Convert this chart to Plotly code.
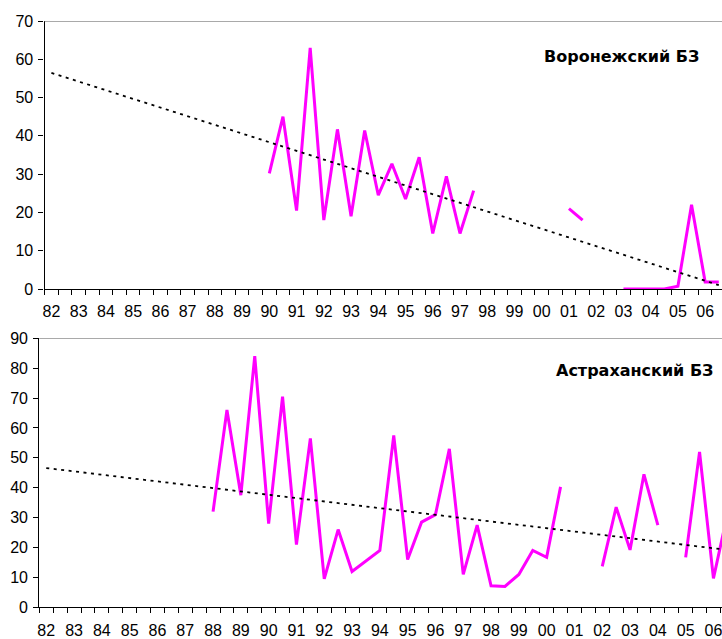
import numpy as np
import plotly.graph_objects as go

# Half-year periods 1982-2006: two counts per year
years = ["82", "83", "84", "85", "86", "87", "88", "89", "90", "91", "92", "93",
         "94", "95", "96", "97", "98", "99", "00", "01", "02", "03", "04", "05", "06"]
periods = list(range(2 * len(years)))

voronezh = [None] * 16 + [
    30.2, 45, 20.5, 63, 18, 41.7, 19, 41.4, 24.5, 32.7, 23.5, 34.4, 14.5, 29.4, 14.5, 25.7,
] + [None] * 6 + [21, 18] + [None] * 2 + [0, 0, 0, 0, 0.7, 22, 1.8, 1.8]

astrakhan = [None] * 12 + [
    32, 66, 37.5, 84, 28, 70.5, 21, 56.5, 9.5, 26, 12, 15.5, 19, 57.5, 16, 28.5,
    31, 53, 11, 27.5, 7.2, 7, 11, 19, 16.7, 40.3,
] + [None] * 2 + [13.7, 33.5, 19.2, 44.5, 27.5] + [None] + [16.7, 52, 9.7, 31]

panels = [
    dict(name="Воронежский БЗ", values=voronezh, ymax=70),
    dict(name="Астраханский БЗ", values=astrakhan, ymax=90),
]

W, H = 722, 639
FONT = "Liberation Sans, Arial, sans-serif"
TITLE_FONT = "DejaVu Sans, Liberation Sans, Arial, sans-serif"
MAGENTA = "#FF00FF"

# pixel layout of the two panels (left edge, category width, top, bottom)
geom = [
    dict(x0=44.6, step=13.62, top=21.0, bottom=289.0, title_x=701, title_y=56),
    dict(x0=39.3, step=13.9, top=338.3, bottom=607.3, title_x=715, title_y=370),
]


def linear_trend(xs, ys):
    pts = [(x, y) for x, y in zip(xs, ys) if y is not None]
    px = np.array([p[0] for p in pts], dtype=float)
    py = np.array([p[1] for p in pts], dtype=float)
    k, b = np.polyfit(px, py, 1)
    return [k * x + b for x in xs]


fig = go.Figure()
annotations = []
shapes = []

for i, (panel, g) in enumerate(zip(panels, geom)):
    sfx = "" if i == 0 else str(i + 1)
    xa, ya = "x" + sfx, "y" + sfx

    fig.add_trace(go.Scatter(
        x=periods, y=panel["values"], mode="lines",
        line=dict(color=MAGENTA, width=3), connectgaps=False,
        xaxis=xa, yaxis=ya, hoverinfo="skip",
    ))
    fig.add_trace(go.Scatter(
        x=periods, y=linear_trend(periods, panel["values"]), mode="lines",
        line=dict(color="black", width=1.8, dash="3px,4.5px"),
        xaxis=xa, yaxis=ya, hoverinfo="skip",
    ))

    x_end = -0.5 + (W - g["x0"]) / g["step"]
    xaxis = dict(
        domain=[g["x0"] / W, 1], range=[-0.5, x_end], anchor=ya,
        automargin=False, ticklabeloverflow="allow",
        tickmode="array", tickvals=periods[::2], ticktext=years,
        ticks="", showgrid=False, zeroline=False,
        showline=True, linecolor="black", linewidth=1.3,
        tickfont=dict(family=FONT, size=16, color="black"),
        ticklabelstandoff=8,
        minor=dict(ticks="outside", ticklen=5, tickwidth=1, tickcolor="black",
                   tickmode="linear", tick0=-0.5, dtick=1, showgrid=False),
    )
    yaxis = dict(
        domain=[1 - g["bottom"] / H, 1 - g["top"] / H], range=[0, panel["ymax"]],
        anchor=xa, automargin=False,
        tickmode="linear", tick0=0, dtick=10,
        ticks="outside", ticklen=5, tickwidth=1, tickcolor="black",
        ticklabelstandoff=2,
        showgrid=False, zeroline=False,
        showline=True, linecolor="black", linewidth=1.3,
        tickfont=dict(family=FONT, size=16, color="black"),
    )
    fig.update_layout(**{"xaxis" + sfx: xaxis, "yaxis" + sfx: yaxis})

    # plot-area top border
    shapes.append(dict(
        type="line", xref="paper", yref=ya,
        x0=g["x0"] / W, x1=1, y0=panel["ymax"], y1=panel["ymax"],
        line=dict(color="#8c8c8c", width=1.3),
    ))
    annotations.append(dict(
        text="<b>" + panel["name"] + "</b>", xref="paper", yref="paper",
        x=g["title_x"] / W, y=1 - g["title_y"] / H,
        xanchor="right", yanchor="middle", showarrow=False,
        font=dict(family=TITLE_FONT, size=16, color="black"),
    ))

fig.update_layout(
    width=W, height=H, autosize=False,
    margin=dict(l=0, r=0, t=0, b=0, autoexpand=False),
    paper_bgcolor="white", plot_bgcolor="white",
    showlegend=False,
    annotations=annotations, shapes=shapes,
)

fig.write_html("out.html")
